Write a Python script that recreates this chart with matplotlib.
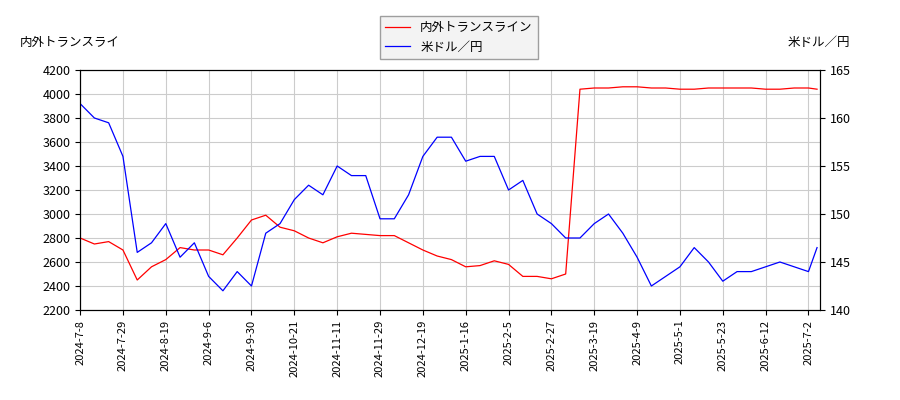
import matplotlib
matplotlib.use("Agg")
import matplotlib.pyplot as plt

plt.rcParams['font.family'] = ['Noto Sans CJK JP', 'DejaVu Sans']

tick_labels = ['2024-7-8', '2024-7-29', '2024-8-19', '2024-9-6', '2024-9-30', '2024-10-21',
               '2024-11-11', '2024-11-29', '2024-12-19', '2025-1-16', '2025-2-5', '2025-2-27',
               '2025-3-19', '2025-4-9', '2025-5-1', '2025-5-23', '2025-6-12', '2025-7-2']

# sampled every 5 trading days, last point is the final day
x = [i * 5 for i in range(52)] + [258]
stock = [2800, 2750, 2770, 2700, 2450, 2560, 2620, 2720, 2700, 2700, 2660, 2800, 2950,
         2990, 2890, 2860, 2800, 2760, 2810, 2840, 2830, 2820, 2820, 2760, 2700, 2650,
         2620, 2560, 2570, 2610, 2580, 2480, 2480, 2460, 2500, 4040, 4050, 4050, 4060,
         4060, 4050, 4050, 4040, 4040, 4050, 4050, 4050, 4050, 4040, 4040, 4050, 4050, 4040]
usdjpy = [161.5, 160, 159.5, 156, 146, 147, 149, 145.5, 147, 143.5, 142, 144, 142.5,
          148, 149, 151.5, 153, 152, 155, 154, 154, 149.5, 149.5, 152, 156, 158, 158,
          155.5, 156, 156, 152.5, 153.5, 150, 149, 147.5, 147.5, 149, 150, 148, 145.5,
          142.5, 143.5, 144.5, 146.5, 145, 143, 144, 144, 144.5, 145, 144.5, 144, 146.5]

fig = plt.figure(figsize=(9, 4), dpi=100)
ax = fig.add_axes([0.089, 0.225, 0.822, 0.6])
ax2 = ax.twinx()

l1, = ax.plot(x, stock, color='red', lw=0.9, label='内外トランスライン')
l2, = ax2.plot(x, usdjpy, color='blue', lw=0.9, label='米ドル／円')

ax.set_xlim(0, 259)
ax.set_ylim(2200, 4200)
ax.set_yticks(range(2200, 4201, 200))
ax2.set_ylim(140, 165)
ax2.set_yticks(range(140, 166, 5))
ax.set_xticks([i * 15 for i in range(len(tick_labels))])
ax.set_xticklabels(tick_labels, rotation=90, fontsize=8)
ax.tick_params(axis='y', labelsize=9)
ax2.tick_params(axis='y', labelsize=9)
ax.grid(True, color='#cccccc')

fig.text(0.022, 0.885, '内外トランスライ', fontsize=9)
fig.text(0.945, 0.885, '米ドル／円', fontsize=9, ha='right')
fig.legend(handles=[l1, l2], loc='upper center', bbox_to_anchor=(0.51, 0.975),
           fontsize=9, fancybox=False, edgecolor='#888888', facecolor='#f0f0f0')

fig.savefig('out.png')
